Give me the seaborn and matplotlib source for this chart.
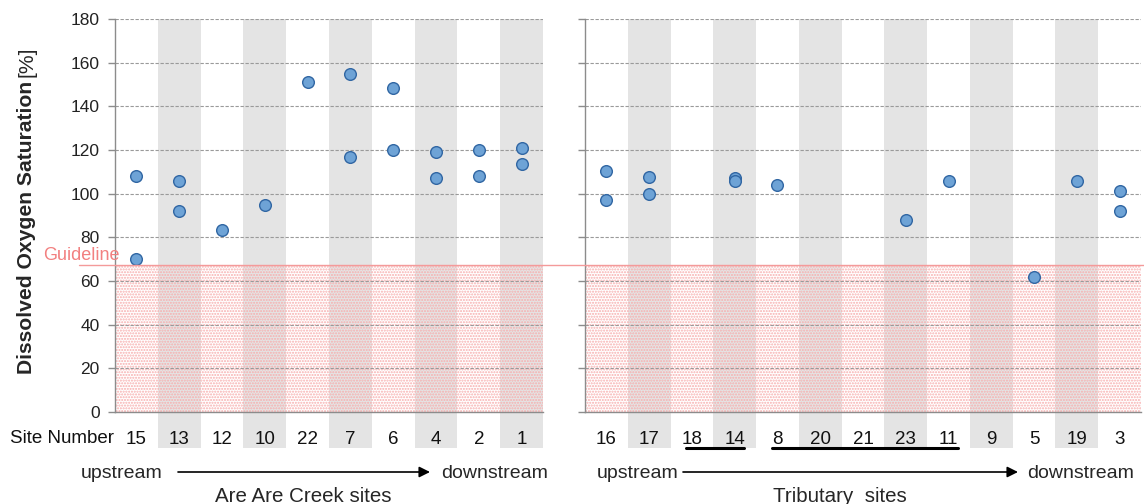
import matplotlib
matplotlib.use("Agg")
import matplotlib.pyplot as plt
import seaborn as sns
import pandas as pd
from matplotlib.patches import Rectangle
from matplotlib.lines import Line2D
import matplotlib.transforms as mtransforms

# ---------------- data ----------------
creek_sites = ['15', '13', '12', '10', '22', '7', '6', '4', '2', '1']
creek_pt_site = ['15', '15', '13', '13', '12', '10', '22', '7', '7', '6', '6',
                 '4', '4', '2', '2', '1', '1']
creek_pt_value = [108, 70, 106, 92, 83.5, 95, 151, 155, 117, 148.5, 120,
                  119, 107, 120, 108, 121, 113.5]

trib_sites = ['16', '17', '18', '14', '8', '20', '21', '23', '11', '9', '5', '19', '3']
trib_pt_site = ['16', '16', '17', '17', '14', '14', '8', '23', '11', '5', '19', '3', '3']
trib_pt_value = [110.5, 97, 107.5, 100, 107, 106, 104, 88, 106, 62, 106, 101, 92]

guideline = 67
y_ticks = [0, 20, 40, 60, 80, 100, 120, 140, 160, 180]
# groups underlined in tributary labels (first, last site)
trib_groups = [('18', '14'), ('8', '11')]

# ---------------- style ----------------
sns.set_theme(style="white")
plt.rcParams['font.family'] = ['Liberation Sans', 'DejaVu Sans']
plt.rcParams['hatch.linewidth'] = 1.0

W, H = 1144, 504
fig = plt.figure(figsize=(W / 100, H / 100), dpi=100)

def px_ax(x0, x1, y0, y1):
    return fig.add_axes([x0 / W, 1 - y1 / H, (x1 - x0) / W, (y1 - y0) / H])

def fy(py):
    return 1 - py / H

axL = px_ax(115, 543, 19, 412)
axR = px_ax(585, 1141, 19, 412)

band_color = '#e4e4e4'
grid_color = '#9a9a9a'
spine_color = '#8c8c8c'
pt_face = '#6ea3d6'
pt_edge = '#3066a3'
hatch_color = '#f7adad'
label_size = 13.5

def draw_panel(ax, sites, pt_site, pt_val, show_labels):
    df = pd.DataFrame({'site': pt_site, 'value': pt_val})
    sns.stripplot(data=df, x='site', y='value', order=sites, jitter=False,
                  ax=ax, color=pt_face, edgecolor=pt_edge, linewidth=1.0,
                  size=8.4, zorder=5)
    n = len(sites)
    ax.set_xlim(-0.5, n - 0.5)
    ax.set_ylim(0, 180)
    trans = mtransforms.blended_transform_factory(ax.transData, ax.transAxes)
    for i in range(1, n, 2):
        ax.add_patch(Rectangle((i - 0.5, -0.0916), 1, 1.0916, transform=trans,
                               facecolor=band_color, edgecolor='none',
                               clip_on=False, zorder=0))
    # hatched zone below guideline
    ax.axhspan(0, guideline, facecolor='none', edgecolor=hatch_color,
               hatch='......', linewidth=0, zorder=1)
    ax.set_yticks(y_ticks)
    for yv in y_ticks[1:]:
        ax.axhline(yv, color=grid_color, lw=0.8, ls=(0, (3, 1.5)), zorder=2)
    for s in ['top', 'right']:
        ax.spines[s].set_visible(False)
    for s in ['left', 'bottom']:
        ax.spines[s].set_color(spine_color)
        ax.spines[s].set_linewidth(1.0)
        ax.spines[s].set_zorder(3)
    ax.tick_params(axis='y', left=True, length=5, width=1, color=spine_color,
                   pad=6, labelsize=12.5, labelcolor='#222222',
                   labelleft=show_labels)
    ax.tick_params(axis='x', bottom=False, length=0, pad=13.5,
                   labelsize=label_size, labelcolor='#111111')
    ax.set_xlabel('')
    ax.set_ylabel('')
    ax.patch.set_alpha(0)

draw_panel(axL, creek_sites, creek_pt_site, creek_pt_value, True)
draw_panel(axR, trib_sites, trib_pt_site, trib_pt_value, False)

# underline groups in tributary labels
transR = mtransforms.blended_transform_factory(axR.transData, axR.transAxes)
for a, b in trib_groups:
    i0, i1 = trib_sites.index(a), trib_sites.index(b)
    axR.add_line(Line2D([i0 - 0.13, i1 + 0.22], [-0.092, -0.092], transform=transR,
                        color='black', lw=2.2, clip_on=False))

# guideline across figure
fig.add_artist(Line2D([79 / W, 1.0], [fy(265), fy(265)],
                      color='#f49a9a', lw=1.0, zorder=4))
fig.text(81.5 / W, fy(255), 'Guideline', color='#f28080', fontsize=13,
         ha='center', va='center')

# y label: bold part followed by regular unit
ylab = fig.text(27 / W, fy(374), 'Dissolved Oxygen Saturation', rotation=90,
                fontsize=15.2, fontweight='bold', ha='center', va='bottom')
fig.canvas.draw()
bb = ylab.get_window_extent()
top_px = H - bb.y1  # pixel row (from top) of label end
fig.text(27 / W, fy(top_px - 4), '[%]', rotation=90, fontsize=15.2,
         ha='center', va='bottom')

fig.text(61.5 / W, fy(443), 'Site Number', fontsize=label_size, ha='center',
         va='baseline', color='#111111')

# upstream / downstream arrows
def flow(x_up, x_a0, x_a1, x_down, x_title, title):
    yb = fy(478)
    fig.text(x_up / W, yb, 'upstream', fontsize=14, ha='center', va='baseline')
    fig.text(x_down / W, yb, 'downstream', fontsize=14, ha='center', va='baseline')
    axL.annotate('', xy=(x_a1 / W, fy(472)), xytext=(x_a0 / W, fy(472)),
                 xycoords='figure fraction', textcoords='figure fraction',
                 arrowprops=dict(arrowstyle='-|>', color='black', lw=1.2,
                                 mutation_scale=16, shrinkA=0, shrinkB=0))
    fig.text(x_title / W, fy(502), title, fontsize=14.8, ha='center',
             va='baseline')

flow(122, 178, 430, 495, 303, 'Are Are Creek sites')
flow(638, 683, 1018, 1081, 840, 'Tributary  sites')

fig.savefig('out.png', dpi=100)
